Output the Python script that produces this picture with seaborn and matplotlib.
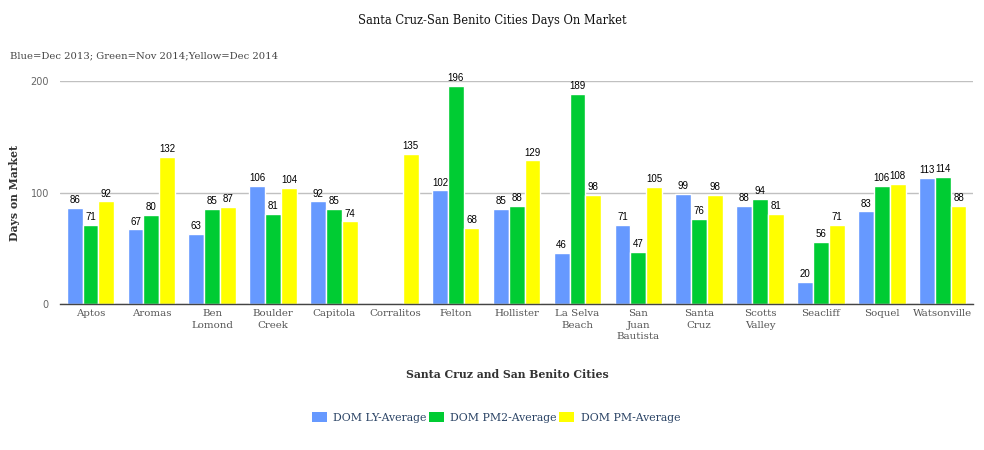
import numpy as np
import pandas as pd
import matplotlib
matplotlib.use("Agg")
import matplotlib.pyplot as plt
import seaborn as sns
from matplotlib.patches import Patch

cities = ["Aptos", "Aromas", "Ben\nLomond", "Boulder\nCreek", "Capitola", "Corralitos",
          "Felton", "Hollister", "La Selva\nBeach", "San\nJuan\nBautista", "Santa\nCruz",
          "Scotts\nValley", "Seacliff", "Soquel", "Watsonville"]
dom_ly = [86, 67, 63, 106, 92, np.nan, 102, 85, 46, 71, 99, 88, 20, 83, 113]
dom_pm2 = [71, 80, 85, 81, 85, np.nan, 196, 88, 189, 47, 76, 94, 56, 106, 114]
dom_pm = [92, 132, 87, 104, 74, 135, 68, 129, 98, 105, 98, 81, 71, 108, 88]
series = ["DOM LY-Average", "DOM PM2-Average", "DOM PM-Average"]
colors = ["#6699FF", "#00CC33", "#FFFF00"]
yticks = [0, 100, 200]

df = pd.DataFrame({
    "city": cities * 3,
    "series": [series[0]] * 15 + [series[1]] * 15 + [series[2]] * 15,
    "value": dom_ly + dom_pm2 + dom_pm,
})

sns.set_theme(style="white")
plt.rcParams['font.family'] = ['DejaVu Serif', 'DejaVu Sans']

fig = plt.figure(figsize=(9.84, 4.5), dpi=100)
ax = fig.add_axes([0.061, 0.325, 0.928, 0.494])

sns.barplot(data=df, x="city", y="value", hue="series", order=cities, hue_order=series,
            palette=colors, width=0.78, edgecolor="white", linewidth=1, saturation=1,
            errorbar=None, legend=False, ax=ax)

for c in ax.containers:
    labels = []
    for p in c:
        h = p.get_height()
        labels.append(f"{h:.0f}" if np.isfinite(h) and h > 0 else "")
    ax.bar_label(c, labels=labels, padding=2, fontsize=7, color="black",
                 family="Liberation Sans", clip_on=False)

ax.set_ylim(0, 200)
ax.set_xlim(-0.5, len(cities) - 0.5)
ax.set_yticks(yticks)
ax.set_yticklabels([str(t) for t in yticks], fontsize=7, color="#666666", family="DejaVu Sans")
ax.grid(axis="y", color="#c0c0c0", linewidth=1)
ax.set_axisbelow(True)
for s in ["top", "right", "left"]:
    ax.spines[s].set_visible(False)
ax.spines["bottom"].set_color("#444444")
ax.spines["bottom"].set_linewidth(1)
ax.tick_params(axis="y", length=0, pad=8)
ax.tick_params(axis="x", which="major", length=0, pad=4)
ax.set_xticks(np.arange(-0.5, len(cities) + 0.5, 1), minor=True)
ax.tick_params(axis="x", which="minor", length=4, color="#a8b8cc", width=1)
ax.set_xticklabels(cities, fontsize=7.4, color="#555555", linespacing=1.35)

ax.set_xlabel("Santa Cruz and San Benito Cities", fontsize=7.8, fontweight="bold",
              color="#333333", labelpad=0)
ax.xaxis.set_label_coords(0.49, -0.295)
ax.set_ylabel("Days on Market", fontsize=7.8, fontweight="bold", color="#333333")
ax.yaxis.set_label_coords(-0.044, 0.5)

fig.text(0.5, 0.955, "Santa Cruz-San Benito Cities Days On Market", ha="center", va="center",
         fontsize=8.3, color="#111111")
fig.text(0.01, 0.875, "Blue=Dec 2013; Green=Nov 2014;Yellow=Dec 2014", ha="left", va="center",
         fontsize=7.2, color="#444444")

handles = [Patch(facecolor=c, edgecolor="none") for c in colors]
leg = fig.legend(handles, series, loc="center", bbox_to_anchor=(0.504, 0.073), ncol=3,
                 frameon=False, fontsize=7.8, handlelength=1.4, handleheight=1.1,
                 columnspacing=0.2, handletextpad=0.6)
for t in leg.get_texts():
    t.set_color("#2a4365")

fig.savefig("out.png", dpi=100)
